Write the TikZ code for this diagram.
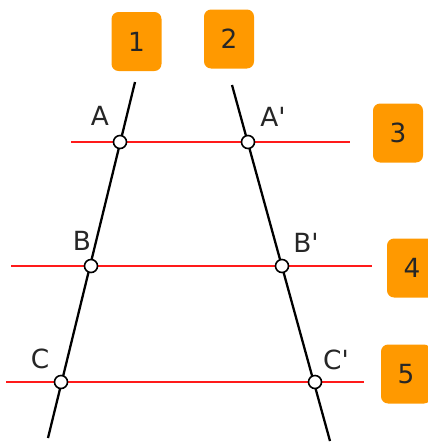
\documentclass[tikz,border=0pt]{standalone}
\usepackage{fontspec}
\setmainfont{DejaVu Sans}
\usetikzlibrary{positioning}
\definecolor{tagorange}{HTML}{FF9900}
\definecolor{parred}{HTML}{FF1A1A}

\begin{document}
\begin{tikzpicture}[x=0.02cm,y=-0.02cm]

\tikzset{
tagbox/.style={
fill=tagorange,
rounded corners=4pt,
minimum width=50*0.02cm,
minimum height=59*0.02cm,
text=black!85,
font=\fontsize{15}{17}\selectfont
},
crosspt/.style={
circle,
draw=black,
fill=white,
line width=0.9pt,
inner sep=0pt,
minimum size=13*0.02cm
},
ptlabel/.style={
text=black!85,
font=\fontsize{15}{17}\selectfont
},
transversal/.style={
line width=1.3pt,
black
},
parallel/.style={
line width=1.3pt,
parred
}
}

\useasboundingbox (0,0) rectangle (428,443);

%--------------------------------------------------
% TAGS
%--------------------------------------------------

\node[tagbox] (t1) at (136.5,41.5) {1};
\node[tagbox] (t2) at (229,39) {2};
\node[tagbox] (t3) at (398,133) {3};
\node[tagbox] (t4) at (412,268) {4};
\node[tagbox] (t5) at (406,374) {5};

%--------------------------------------------------
% LINE ENDS
%--------------------------------------------------

\coordinate (l1top) at (135,82);
\coordinate (l1bot) at (48,438);
\coordinate (l2top) at (232,85);
\coordinate (l2bot) at (330,441);

\coordinate (l3w) at (71,142);
\coordinate (l3e) at (350,142);
\coordinate (l4w) at (11,266);
\coordinate (l4e) at (372,266);
\coordinate (l5w) at (6,382);
\coordinate (l5e) at (364,382);

%--------------------------------------------------
% LINES
%--------------------------------------------------

\draw[parallel] (l3w) -- (l3e);
\draw[parallel] (l4w) -- (l4e);
\draw[parallel] (l5w) -- (l5e);

\draw[transversal] (l1top) -- (l1bot);
\draw[transversal] (l2top) -- (l2bot);

%--------------------------------------------------
% POINTS
%--------------------------------------------------

\node[crosspt] (A) at (120,142) {};
\node[crosspt] (B) at (91,266) {};
\node[crosspt] (C) at (61,382) {};
\node[crosspt] (A') at (248,142) {};
\node[crosspt] (B') at (282,266) {};
\node[crosspt] (C') at (315,382) {};

\node[ptlabel] at (100,116) {A};
\node[ptlabel] at (273,117) {A\textquotesingle};
\node[ptlabel] at (82,241) {B};
\node[ptlabel] at (306,243) {B\textquotesingle};
\node[ptlabel] at (40,359) {C};
\node[ptlabel] at (336,360) {C\textquotesingle};

\end{tikzpicture}
\end{document}
